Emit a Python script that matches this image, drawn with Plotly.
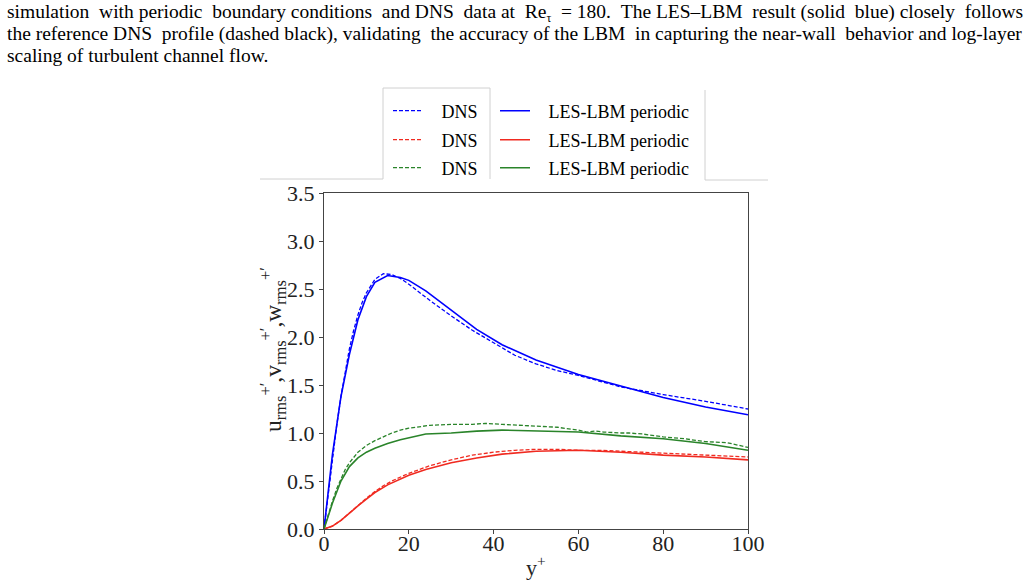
import plotly.graph_objects as go

# ---------------- data ----------------
yplus_les = [0, 2, 4, 6, 8, 10, 12, 15, 18, 20, 24, 30, 36, 42, 50, 60, 70, 80, 90, 100]
u_les = [0, 0.78, 1.38, 1.82, 2.18, 2.42, 2.57, 2.64, 2.62, 2.59, 2.48, 2.28, 2.08, 1.92, 1.76, 1.61, 1.49, 1.37, 1.27, 1.19]
v_les = [0, 0.03, 0.09, 0.17, 0.24, 0.31, 0.38, 0.46, 0.52, 0.56, 0.62, 0.69, 0.74, 0.78, 0.81, 0.82, 0.80, 0.77, 0.75, 0.72]
w_les = [0, 0.27, 0.50, 0.65, 0.74, 0.80, 0.84, 0.89, 0.93, 0.95, 0.99, 1.00, 1.02, 1.03, 1.02, 1.01, 0.97, 0.94, 0.89, 0.82]

yplus_dns_u = [0, 1, 2, 3, 4, 5, 6, 7, 8, 9, 10, 12, 14, 16, 18, 20, 25, 30, 35, 40, 45, 50, 55, 60, 65, 70, 75, 80, 90, 100]
u_dns = [0, 0.38, 0.75, 1.08, 1.38, 1.65, 1.88, 2.07, 2.23, 2.36, 2.46, 2.60, 2.66, 2.65, 2.61, 2.55, 2.38, 2.22, 2.07, 1.94, 1.81, 1.72, 1.65, 1.60, 1.54, 1.48, 1.44, 1.40, 1.33, 1.25]

yplus_dns_v = [0, 2, 4, 6, 8, 10, 12, 14, 16, 18, 20, 25, 30, 35, 40, 45, 50, 55, 60, 65, 70, 75, 80, 90, 100]
v_dns = [0, 0.03, 0.09, 0.17, 0.25, 0.32, 0.39, 0.45, 0.50, 0.54, 0.58, 0.66, 0.72, 0.77, 0.80, 0.82, 0.83, 0.83, 0.82, 0.82, 0.81, 0.80, 0.79, 0.77, 0.75]

yplus_dns_w = [0, 1, 2, 3, 4, 5, 6, 7, 8, 10, 12, 14, 16, 18, 20, 25, 30, 35, 38, 42, 50, 55, 60, 62, 64, 66, 70, 72, 75, 80, 85, 90, 95, 100]
w_dns = [0, 0.15, 0.29, 0.42, 0.53, 0.62, 0.69, 0.75, 0.80, 0.87, 0.92, 0.96, 1.00, 1.03, 1.05, 1.08, 1.09, 1.09, 1.10, 1.09, 1.07, 1.06, 1.03, 1.01, 1.02, 1.01, 1.00, 1.00, 0.99, 0.96, 0.94, 0.91, 0.90, 0.85]

x_ticks = [0, 20, 40, 60, 80, 100]
y_ticks = [0.0, 0.5, 1.0, 1.5, 2.0, 2.5, 3.0, 3.5]

legend_names = ["DNS", "LES-LBM periodic"]

caption_lines = [
    "simulation with periodic boundary conditions and DNS data at Re<sub><span style='font-size:12px'>τ</span></sub> = 180. The LES–LBM result (solid blue) closely follows",
    "the reference DNS profile (dashed black), validating the accuracy of the LBM in capturing the near-wall behavior and log-layer",
    "scaling of turbulent channel flow.",
]
caption_extra_spaces = [10, 4, 0]

BLUE = "#0000ff"
RED = "#f02a20"
GREEN = "#2a842a"

W, H = 1028, 586
def px(x):
    return x / W
def py(y):
    return (H - y) / H

NB = "\u00a0"

def justify(line, extra):
    words = line.split(" ")
    gaps = len(words) - 1
    if extra <= 0 or gaps <= 0:
        return line
    out = words[0]
    given = 0
    for i in range(1, len(words)):
        target = round(extra * i / gaps)
        add = target - given
        given = target
        out += " " + NB * add + words[i]
    return out

fig = go.Figure()

rows = [
    (yplus_dns_u, u_dns, yplus_les, u_les, BLUE),
    (yplus_dns_v, v_dns, yplus_les, v_les, RED),
    (yplus_dns_w, w_dns, yplus_les, w_les, GREEN),
]
row_y = [111, 140, 168]
col_x = [388, 495]
legends = {}
k = 0
for r, (xd, yd, xl, yl, c) in enumerate(rows):
    for j, (xx, yy, dash, lw) in enumerate([(xd, yd, "4px,2px", 1.3), (xl, yl, "solid", 1.6)]):
        k += 1
        lid = "legend" if k == 1 else f"legend{k}"
        fig.add_trace(go.Scatter(x=xx, y=yy, mode="lines", name=NB * 3 + legend_names[j],
                                 line=dict(color=c, width=lw, dash=dash), legend=lid))
        legends[lid] = dict(x=px(col_x[j]), y=py(row_y[r]), xanchor="left", yanchor="middle",
                            bgcolor="rgba(0,0,0,0)", borderwidth=0,
                            font=dict(family="Liberation Serif", size=18, color="black"))

axis_font = dict(family="Liberation Serif", size=22, color="#222")
fig.update_xaxes(domain=[px(324), px(748)], range=[0, 100], tickvals=x_ticks,
                 ticks="outside", ticklen=4, tickcolor="#444", showline=True, mirror=True,
                 linecolor="#444", linewidth=1, showgrid=False, zeroline=False,
                 tickfont=axis_font, automargin=False, ticklabelstandoff=-9)
fig.update_yaxes(domain=[py(529), py(193)], range=[0, 3.5], tickvals=y_ticks,
                 tickformat=".1f", ticks="outside", ticklen=4, tickcolor="#444",
                 showline=True, mirror=True, linecolor="#444", linewidth=1,
                 showgrid=False, zeroline=False, tickfont=axis_font, automargin=False)

fig.update_layout(
    width=W, height=H, margin=dict(l=0, r=0, t=0, b=0, pad=0, autoexpand=False),
    paper_bgcolor="white", plot_bgcolor="white", showlegend=True, **legends,
)

# legend table rules
rule = dict(color="#d0d0d0", width=1)
for x0, y0, x1, y1 in [(260, 179, 383, 179), (383, 88, 383, 179), (383, 88, 490, 88),
                       (490, 88, 490, 179), (705, 90, 705, 180), (705, 180, 768, 180)]:
    fig.add_shape(type="line", xref="paper", yref="paper", x0=px(x0), y0=py(y0),
                  x1=px(x1), y1=py(y1), line=rule)

annots = []
for i, t in enumerate(caption_lines):
    annots.append(dict(text=justify(t, caption_extra_spaces[i]), xref="paper", yref="paper",
                       x=px(5), y=py(12.5 + i * 21.3),
                       xanchor="left", yanchor="middle", showarrow=False,
                       font=dict(family="Liberation Serif", size=19.5, color="black")))
annots.append(dict(text="u<sub>rms</sub><sup>+′</sup>,v<sub>rms</sub><sup>+′</sup>,w<sub>rms</sub><sup>+′</sup>",
                   xref="paper", yref="paper", x=px(273), y=py(350), textangle=-90,
                   xanchor="center", yanchor="middle", showarrow=False,
                   font=dict(family="Liberation Serif", size=23.5, color="#222")))
annots.append(dict(text="y<sup>+</sup>", xref="paper", yref="paper", x=px(536), y=py(566),
                   xanchor="center", yanchor="middle", showarrow=False,
                   font=dict(family="Liberation Serif", size=22, color="#222")))
fig.update_layout(annotations=annots)

fig.write_html("out.html")
